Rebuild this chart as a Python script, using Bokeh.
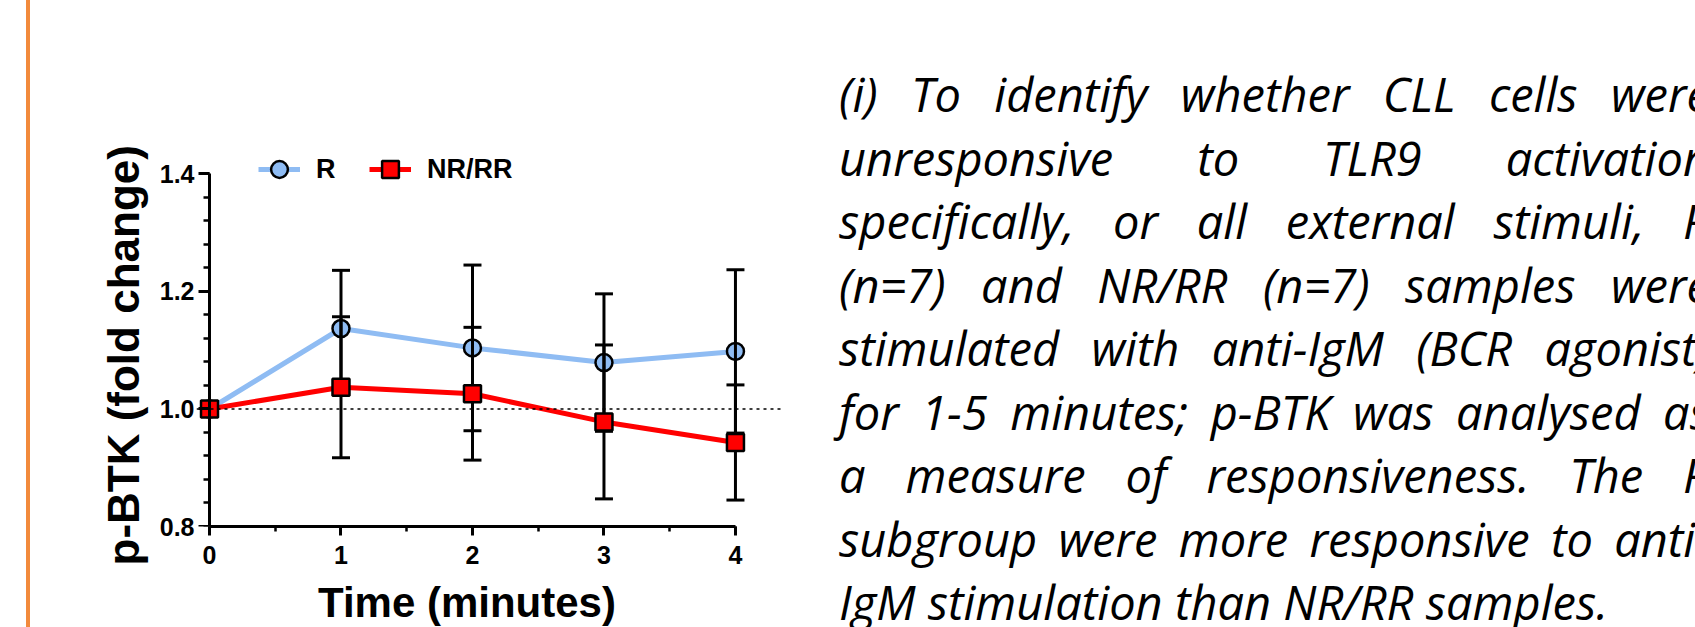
import math
from bokeh.plotting import figure
from bokeh.models import (Range1d, LinearAxis, FixedTicker,
                          PrintfTickFormatter, Span, Title, Legend, LegendItem, Div)
from bokeh.layouts import row, column
from bokeh.embed import file_html
from bokeh.resources import INLINE

# ---------------- data ----------------
time_min = [0, 1, 2, 3, 4]
r_mean = [1.000, 1.137, 1.104, 1.079, 1.098]
r_err = [0.000, 0.099, 0.141, 0.117, 0.139]
nr_mean = [1.000, 1.037, 1.026, 0.978, 0.943]
nr_err = [0.000, 0.120, 0.113, 0.131, 0.098]
series_names = ["R", "NR/RR"]
y_tick_values = [0.8, 1.0, 1.2, 1.4]
x_tick_values = [0, 1, 2, 3, 4]
baseline_value = 1.0
x_title = "Time (minutes)"
y_title = "p-BTK (fold change)"
paragraph_lines = [
    "(i) To identify whether CLL cells were",
    "unresponsive to TLR9 activation",
    "specifically, or all external stimuli, R",
    "(n=7) and NR/RR (n=7) samples were",
    "stimulated with anti-IgM (BCR agonist)",
    "for 1-5 minutes; p-BTK was analysed as",
    "a measure of responsiveness. The R",
    "subgroup were more responsive to anti-",
    "IgM stimulation than NR/RR samples.",
]

# ---------------- style ----------------
R_COLOR = "#8FBCF3"
NR_COLOR = "#FF0000"
ORANGE = "#F28A3C"
AX_FONT = "Liberation Sans"

y_lo, y_hi = y_tick_values[0], y_tick_values[-1]
x_lo, x_hi = x_tick_values[0], x_tick_values[-1]
y_minor = [round(y_lo + k * (y_tick_values[1] - y_tick_values[0]) / 5, 3)
           for k in range(5 * (len(y_tick_values) - 1) + 1)]
x_minor = [x_lo + k * 0.5 for k in range(2 * (len(x_tick_values) - 1) + 1)]

p = figure(width=790, height=578, output_backend="svg", toolbar_location=None,
           x_range=Range1d(-0.0989, 4.373), y_range=Range1d(0.8, 1.457),
           x_axis_type=None, y_axis_type=None,
           min_border_left=164, min_border_right=38, min_border_top=140,
           min_border_bottom=52)
p.outline_line_color = None
p.background_fill_color = "white"
p.border_fill_color = "white"


def style_axis(ax):
    ax.axis_line_width = 3
    ax.axis_line_color = "black"
    ax.major_tick_line_width = 3
    ax.minor_tick_line_width = 2.5
    ax.major_tick_line_color = "black"
    ax.minor_tick_line_color = "black"
    ax.major_tick_in = 0
    ax.minor_tick_in = 0
    ax.major_label_text_font = AX_FONT
    ax.major_label_text_font_style = "bold"
    ax.major_label_text_font_size = "25px"
    ax.major_label_text_color = "black"


xaxis = LinearAxis(ticker=FixedTicker(ticks=x_tick_values, minor_ticks=x_minor),
                   bounds=(x_lo, x_hi))
style_axis(xaxis)
xaxis.major_tick_out = 9
xaxis.minor_tick_out = 5
xaxis.major_label_standoff = 10
p.add_layout(xaxis, "below")

# y tick labels (axis on the frame edge, no line/ticks)
ylab_axis = LinearAxis(ticker=FixedTicker(ticks=y_tick_values, minor_ticks=y_minor),
                       bounds=(y_lo, y_hi), formatter=PrintfTickFormatter(format="%.1f"))
style_axis(ylab_axis)
ylab_axis.axis_line_color = None
ylab_axis.major_tick_line_color = None
ylab_axis.minor_tick_line_color = None
ylab_axis.major_tick_out = 0
ylab_axis.minor_tick_out = 0
ylab_axis.major_label_standoff = 2
p.add_layout(ylab_axis, "left")

# y axis line and ticks drawn at x = 0 (kept on the right side so it reserves no left space)
yaxis = LinearAxis(ticker=FixedTicker(ticks=y_tick_values, minor_ticks=y_minor),
                   bounds=(y_lo, y_hi), fixed_location=x_lo)
style_axis(yaxis)
yaxis.major_label_text_color = None
yaxis.major_label_text_font_size = "1px"
yaxis.major_tick_out = 0
yaxis.minor_tick_out = 0
yaxis.major_tick_in = 11
yaxis.minor_tick_in = 6
p.add_layout(yaxis, "right")

p.add_layout(Title(text=y_title, align="left", offset=-39, standoff=18,
                   text_font=AX_FONT, text_font_style="bold", text_font_size="44px",
                   text_color="black"), "left")

p.add_layout(Span(location=baseline_value, dimension="width", line_color="black",
                  line_width=1.5, line_dash="3 4"))


def error_parts(xs, ms, es):
    keep = [i for i, e in enumerate(es) if e > 0]
    ex = [xs[i] for i in keep]
    lo = [ms[i] - es[i] for i in keep]
    hi = [ms[i] + es[i] for i in keep]
    return ex, lo, hi


# R series
r_line = p.line(time_min, r_mean, line_color=R_COLOR, line_width=5)
r_pts = p.scatter(time_min, r_mean, marker="circle", size=17, fill_color=R_COLOR,
                  line_color="black", line_width=2.5)
ex, lo, hi = error_parts(time_min, r_mean, r_err)
p.segment(x0=ex, y0=lo, x1=ex, y1=hi, line_color="black", line_width=3)
p.scatter(ex + ex, lo + hi, marker="dash", size=18, line_color="black", line_width=3)

# NR/RR series
nr_line = p.line(time_min, nr_mean, line_color=NR_COLOR, line_width=5)
ex, lo, hi = error_parts(time_min, nr_mean, nr_err)
p.segment(x0=ex, y0=lo, x1=ex, y1=hi, line_color="black", line_width=3)
p.scatter(ex + ex, lo + hi, marker="dash", size=18, line_color="black", line_width=3)
nr_pts = p.scatter(time_min, nr_mean, marker="square", size=17, fill_color=NR_COLOR,
                   line_color="black", line_width=2.5)

legend = Legend(items=[LegendItem(label=series_names[0], renderers=[r_line, r_pts]),
                       LegendItem(label=series_names[1], renderers=[nr_line, nr_pts])],
                orientation="horizontal", location=(62, 336), glyph_width=42,
                glyph_height=42, label_standoff=16, spacing=33, padding=0, margin=0,
                border_line_color=None, background_fill_alpha=0,
                label_text_font=AX_FONT, label_text_font_style="bold",
                label_text_font_size="27px", label_text_color="black")
p.add_layout(legend)

# x axis title, set under the figure
xt_div = Div(text=(f'<div style="padding-left:286px;font-family:\'{AX_FONT}\';'
                   'font-weight:bold;font-size:42px;line-height:49px;color:#000000;'
                   f'white-space:nowrap;">{x_title}</div>'),
             width=790, height=49, margin=0, styles={"overflow": "hidden"})
middle = column(p, xt_div, spacing=0)

# left orange rule
orange = Div(text="", width=32, height=627, margin=0,
             styles={"background": f"linear-gradient(to right, #ffffff 0px, #ffffff 26px, "
                                   f"{ORANGE} 26px, {ORANGE} 30px, #ffffff 30px)"})

# right justified paragraph
LH = 63.5
rows_html = []
for i, ln in enumerate(paragraph_lines):
    if i < len(paragraph_lines) - 1:
        spans = "".join(f"<span>{w}</span>" for w in ln.split())
        rows_html.append('<div style="display:flex;justify-content:space-between;'
                         f'height:{LH}px;line-height:{LH}px;white-space:nowrap;">'
                         f'{spans}</div>')
    else:
        rows_html.append(f'<div style="height:{LH}px;line-height:{LH}px;white-space:nowrap;">'
                         f'{ln}</div>')
html = ('<div style="padding:63px 0 0 17px;margin:0;">'
        '<div style="width:871px;font-family:\'Open Sans\';font-style:italic;'
        'font-size:47px;color:#000000;">' + "".join(rows_html) + '</div></div>')
text_div = Div(text=html, width=873, height=627, margin=0, styles={"overflow": "hidden"})

layout = row(orange, middle, text_div, spacing=0)
open("out.html", "w").write(file_html(layout, INLINE))
